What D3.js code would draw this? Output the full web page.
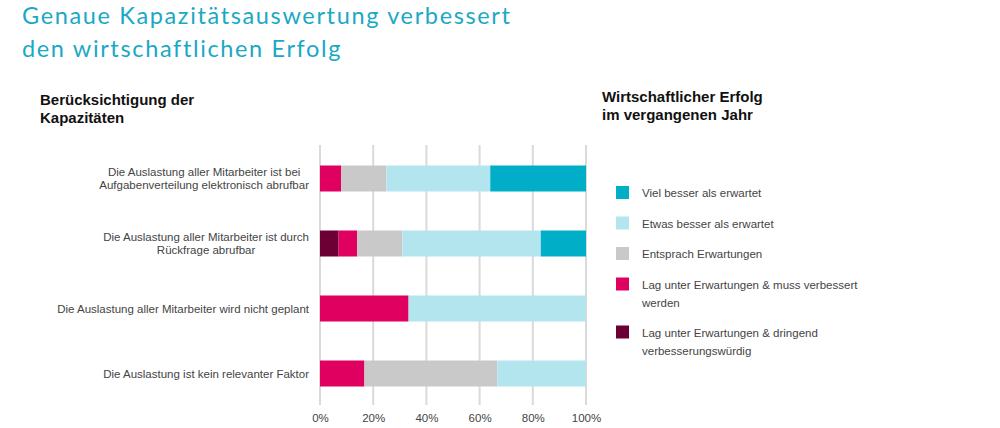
<!DOCTYPE html>
<html lang="de">
<head>
<meta charset="UTF-8">
<title>Genaue Kapazitätsauswertung verbessert den wirtschaftlichen Erfolg</title>
<script src="https://cdn.jsdelivr.net/npm/d3@7"></script>
<style>
    body { margin: 0; background: #fff; }
    svg { display: block; font-family: "Liberation Sans", Arial, sans-serif; }
</style>
</head>
<body>
<svg id="chart" width="1000" height="428"></svg>
<script>
// Data (percent of answers per row)
const titleLines = ["Genaue Kapazitätsauswertung verbessert", "den wirtschaftlichen Erfolg"];
const leftHeading = ["Berücksichtigung der", "Kapazitäten"];
const legendHeading = ["Wirtschaftlicher Erfolg", "im vergangenen Jahr"];

const categories = [
    "Die Auslastung aller Mitarbeiter ist bei Aufgabenverteilung elektronisch abrufbar",
    "Die Auslastung aller Mitarbeiter ist durch Rückfrage abrufbar",
    "Die Auslastung aller Mitarbeiter wird nicht geplant",
    "Die Auslastung ist kein relevanter Faktor"
];

// stacking order left -> right
const seriesNames = [
    "Lag unter Erwartungen & dringend verbesserungswürdig",
    "Lag unter Erwartungen & muss verbessert werden",
    "Entsprach Erwartungen",
    "Etwas besser als erwartet",
    "Viel besser als erwartet"
];
const seriesColors = ["#6c0034", "#e0005f", "#c9c9c9", "#b3e5ef", "#00aec7"];

const dringend = [0, 7, 0, 0];
const mussVerbessert = [8, 7, 33.3, 16.7];
const entsprach = [17, 17, 0, 50];
const etwasBesser = [39, 52, 66.7, 33.3];
const vielBesser = [36, 17, 0, 0];

const tickValues = [0, 20, 40, 60, 80, 100];

// build rows for d3.stack
const seriesValues = [dringend, mussVerbessert, entsprach, etwasBesser, vielBesser];
const rows = categories.map((c, i) => {
    const row = { category: c };
    seriesNames.forEach((s, j) => { row[s] = seriesValues[j][i]; });
    return row;
});

const svg = d3.select("#chart");
const labelSize = 11.5;

// title (stretched so the first line is as wide as in the original)
const title = svg.append("text")
    .attr("fill", "#1aa8c5")
    .style("font-family", "Lato, sans-serif")
    .style("font-size", "23.5px");
title.selectAll("tspan")
    .data(titleLines)
    .enter()
    .append("tspan")
    .attr("x", 22)
    .attr("y", (d, i) => 24 + i * 33)
    .text(d => d);
const firstLine = title.select("tspan").node();
const spacing = (488 - firstLine.getComputedTextLength()) / (titleLines[0].length - 1);
title.style("letter-spacing", Math.max(0, spacing) + "px");

function heading(lines, x, y) {
    svg.append("text")
        .attr("fill", "#111")
        .style("font-size", "15px")
        .style("font-weight", "bold")
        .selectAll("tspan")
        .data(lines)
        .enter()
        .append("tspan")
        .attr("x", x)
        .attr("y", (d, i) => y + i * 18)
        .text(d => d);
}
heading(leftHeading, 40, 105);
heading(legendHeading, 602, 102);

// scales
const x = d3.scaleLinear().domain([0, 100]).range([320, 586]);
const y = d3.scaleBand()
    .domain(categories)
    .range([146, 406])
    .paddingInner(0.6)
    .paddingOuter(0.3);

// gridlines
svg.append("g")
    .selectAll("line")
    .data(tickValues)
    .enter()
    .append("line")
    .attr("x1", d => x(d))
    .attr("x2", d => x(d))
    .attr("y1", 145)
    .attr("y2", 405)
    .attr("stroke", "#dadada")
    .attr("stroke-width", 2);

// bars
const stacked = d3.stack().keys(seriesNames)(rows);

svg.append("g")
    .selectAll("g")
    .data(stacked)
    .enter()
    .append("g")
    .attr("fill", (d, i) => seriesColors[i])
    .selectAll("rect")
    .data(d => d)
    .enter()
    .append("rect")
    .attr("x", d => x(d[0]))
    .attr("y", d => y(d.data.category))
    .attr("width", d => x(d[1]) - x(d[0]))
    .attr("height", y.bandwidth());

// x axis labels
const xAxis = svg.append("g")
    .attr("transform", "translate(0,410)")
    .call(d3.axisBottom(x).tickValues(tickValues).tickFormat(d => d + "%").tickSize(0).tickPadding(4));
xAxis.select(".domain").remove();
xAxis.selectAll("text")
    .attr("fill", "#444")
    .style("font-family", "'Liberation Sans', Arial, sans-serif")
    .style("font-size", "11.5px");

// split text into lines that fit maxWidth
function wrapLines(text, maxWidth, fontSize) {
    const probe = svg.append("text").style("font-size", fontSize + "px");
    const words = text.split(" ");
    const lines = [];
    let line = "";
    words.forEach(w => {
        const test = line ? line + " " + w : w;
        probe.text(test);
        if (probe.node().getComputedTextLength() > maxWidth && line) {
            lines.push(line);
            line = w;
        } else {
            line = test;
        }
    });
    lines.push(line);
    probe.remove();
    return lines;
}

function textWidth(t, fontSize) {
    const probe = svg.append("text").style("font-size", fontSize + "px").text(t);
    const w = probe.node().getComputedTextLength();
    probe.remove();
    return w;
}

// category labels: block right aligned, lines centered
categories.forEach(c => {
    const lines = wrapLines(c, 256, labelSize);
    const maxW = d3.max(lines, l => textWidth(l, labelSize));
    const cx = 309 - maxW / 2;
    const cy = y(c) + y.bandwidth() / 2;
    svg.append("text")
        .attr("fill", "#444")
        .attr("text-anchor", "middle")
        .style("font-size", labelSize + "px")
        .selectAll("tspan")
        .data(lines)
        .enter()
        .append("tspan")
        .attr("x", cx)
        .attr("y", (d, i) => cy + 4 + (i - (lines.length - 1) / 2) * 12.5)
        .text(d => d);
});

// legend
const legendOrder = d3.range(seriesNames.length).reverse();
let ly = 186;
legendOrder.forEach(i => {
    const lines = wrapLines(seriesNames[i], 222, labelSize);
    svg.append("rect")
        .attr("x", 616)
        .attr("y", ly)
        .attr("width", 13)
        .attr("height", 13)
        .attr("fill", seriesColors[i]);
    svg.append("text")
        .attr("fill", "#444")
        .style("font-size", labelSize + "px")
        .selectAll("tspan")
        .data(lines)
        .enter()
        .append("tspan")
        .attr("x", 642)
        .attr("y", (d, k) => ly + 11 + k * 18)
        .text(d => d);
    ly += lines.length > 1 ? 48 : 30.5;
});
</script>
</body>
</html>
